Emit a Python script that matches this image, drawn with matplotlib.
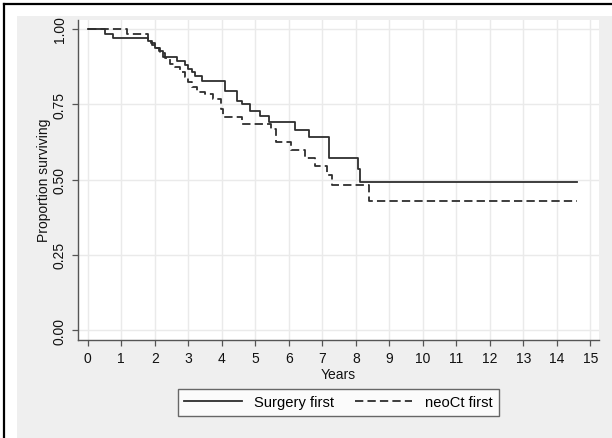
import matplotlib
matplotlib.use("Agg")
import matplotlib.pyplot as plt
from matplotlib.patches import Rectangle
from matplotlib.lines import Line2D

plt.rcParams['font.family'] = ['Liberation Sans', 'DejaVu Sans']

# ---- data ----
end_time = 14.6
surgery_times = [0, 0.5, 0.76, 1.81, 1.91, 2.01, 2.14, 2.26, 2.66, 2.9, 3.0, 3.1, 3.2,
                 3.4, 4.1, 4.45, 4.6, 4.85, 5.14, 5.42, 6.2, 6.59, 7.21, 8.08, 8.13]
surgery_surv = [1.0, 0.985, 0.969, 0.961, 0.948, 0.937, 0.926, 0.908, 0.893, 0.880, 0.867,
                0.856, 0.845, 0.828, 0.795, 0.762, 0.751, 0.729, 0.712, 0.692, 0.665,
                0.640, 0.571, 0.535, 0.493]
neoct_times = [0, 1.16, 1.8, 1.9, 2.0, 2.15, 2.3, 2.45, 2.6, 2.75, 2.9, 3.0, 3.1, 3.25,
               3.5, 3.75, 3.97, 4.03, 4.6, 5.47, 5.62, 6.08, 6.47, 6.78, 7.14, 7.3, 8.4]
neoct_surv = [1.0, 0.984, 0.968, 0.952, 0.936, 0.920, 0.905, 0.885, 0.873, 0.857, 0.841,
              0.825, 0.809, 0.792, 0.784, 0.767, 0.735, 0.707, 0.684, 0.668, 0.624,
              0.598, 0.571, 0.546, 0.514, 0.482, 0.428]
x_ticks = list(range(0, 16))
y_ticks = [0.0, 0.25, 0.5, 0.75, 1.0]
y_ticklabels = ["0.00", "0.25", "0.50", "0.75", "1.00"]
series_labels = ["Surgery first", "neoCt first"]

W, H = 612, 439
fig = plt.figure(figsize=(W / 100, H / 100), dpi=100)
fig.patch.set_facecolor('white')

# background panel and frame
fig.add_artist(Rectangle((17 / W, 0), (W - 17) / W, (H - 17) / H, transform=fig.transFigure,
                         facecolor='#efefef', edgecolor='none', zorder=0))
fig.add_artist(Line2D([4 / W, 4 / W], [0, 1 - 4.5 / H], transform=fig.transFigure,
                      color='black', lw=1.6, zorder=1))
fig.add_artist(Line2D([4 / W, 1], [1 - 4.5 / H, 1 - 4.5 / H], transform=fig.transFigure,
                      color='black', lw=1.6, zorder=1))

left, right = 77.7, 599
bottom, top = 340.7, 20.7
ax = fig.add_axes([left / W, 1 - bottom / H, (right - left) / W, (bottom - top) / H])
ax.set_facecolor('white')

line_color = '#2e2e2e'
t1 = surgery_times + [end_time]
s1 = surgery_surv + [surgery_surv[-1]]
t2 = neoct_times + [end_time]
s2 = neoct_surv + [neoct_surv[-1]]
ax.step(t1, s1, where='post', color=line_color, lw=1.3, label=series_labels[0], zorder=3)
ax.step(t2, s2, where='post', color=line_color, lw=1.3, linestyle=(0, (4.6, 2.3)),
        label=series_labels[1], zorder=3)

ax.set_xlim(-0.3, 15.26)
ax.set_ylim(-0.032, 1.031)
ax.set_xticks(x_ticks)
ax.set_xticklabels([str(v) for v in x_ticks], fontsize=10)
ax.set_yticks(y_ticks)
ax.set_yticklabels(y_ticklabels, fontsize=10, rotation=90, va='center')
ax.grid(True, color='#eaeaea', lw=1.0, zorder=0)
ax.set_axisbelow(True)
for sp in ['top', 'right']:
    ax.spines[sp].set_visible(False)
for sp in ['left', 'bottom']:
    ax.spines[sp].set_color('#555555')
    ax.spines[sp].set_linewidth(1.0)
ax.tick_params(direction='out', length=4, width=0.9, color='#555555', labelcolor='#111111', pad=4)
ax.set_xlabel('Years', fontsize=10, labelpad=1.5, color='#111111')
ax.set_ylabel('Proportion surviving', fontsize=10, labelpad=1, color='#111111')

leg = ax.legend(loc='center', bbox_to_anchor=(338.5 / W, 1 - 403.5 / H),
                bbox_transform=fig.transFigure, ncol=2, fontsize=10.6, frameon=True,
                fancybox=False, handlelength=3.9, handletextpad=0.85, columnspacing=1.4,
                borderpad=0.45, borderaxespad=0)
leg.get_frame().set_edgecolor('#444444')
leg.get_frame().set_linewidth(1.0)
leg.get_frame().set_facecolor('white')

fig.savefig('out.png', dpi=100, facecolor=fig.get_facecolor())
